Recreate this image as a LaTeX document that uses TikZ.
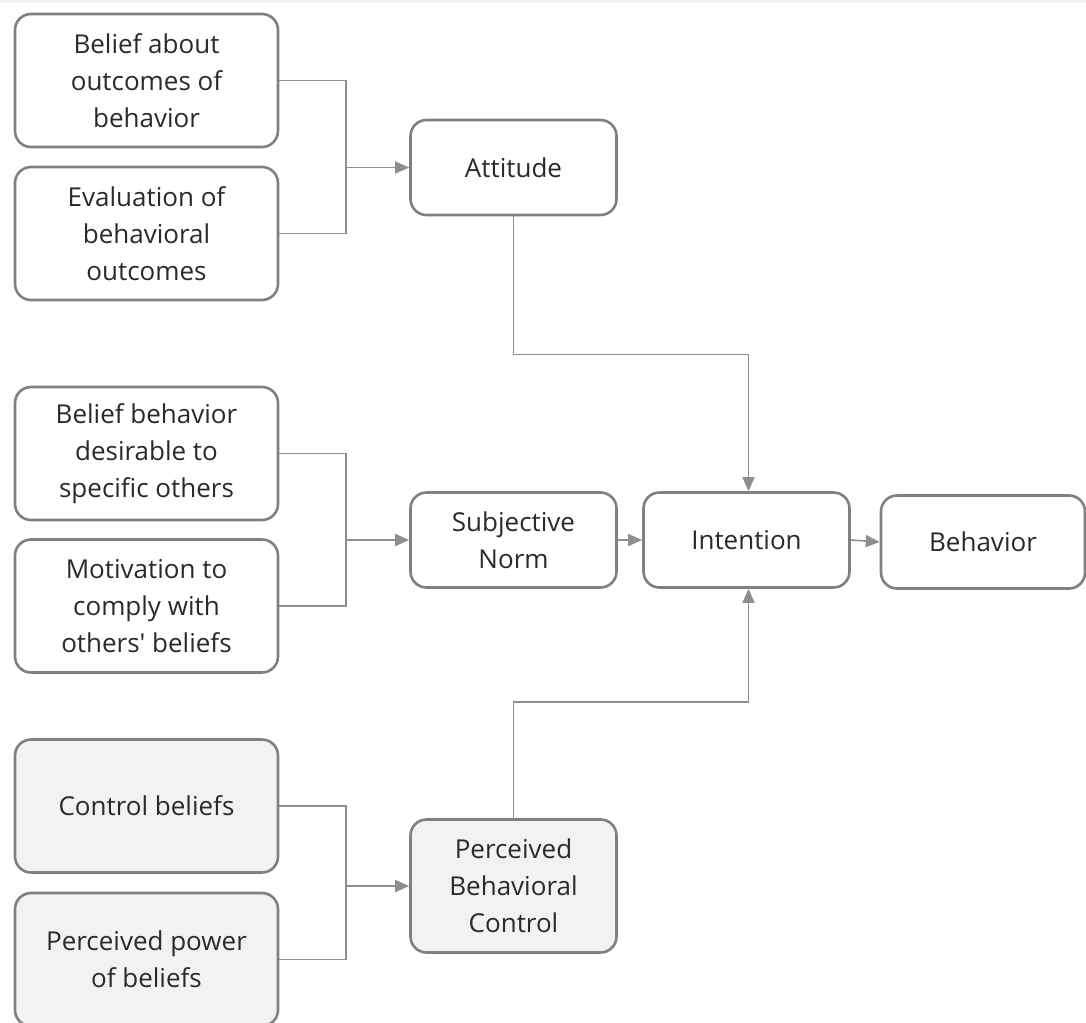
\documentclass[tikz,border=0pt]{standalone}
\usepackage{fontspec}
\setmainfont{Open Sans}
\usetikzlibrary{arrows.meta}
\definecolor{edge}{HTML}{808080}
\definecolor{wire}{HTML}{8E8E8E}
\definecolor{ink}{HTML}{2A2A2A}
\definecolor{shade}{HTML}{F2F2F2}
\tikzset{
  box/.style={draw=edge, line width=2.6pt, rounded corners=16pt, fill=white,
    align=center, text=ink, inner sep=0pt,
    font=\fontsize{26}{37}\selectfont},
  leftbox/.style={box, minimum width=263pt, minimum height=133pt},
  midbox/.style={box, minimum width=206pt, minimum height=95pt},
  greybox/.style={fill=shade},
  wireline/.style={draw=wire, line width=1.6pt},
  flow/.style={wireline, -{Triangle[length=14pt,width=12pt]}},
}
\begin{document}
\begin{tikzpicture}[x=1pt,y=-1pt]
\useasboundingbox (0,0) rectangle (1086,1022);
\clip (0,0) rectangle (1086,1022);
\fill[gray!10] (0,0) rectangle (1086,3);

% input beliefs
\node[leftbox] (l1) at (146.5,80.5) {Belief about\\outcomes of\\behavior};
\node[leftbox] (l2) at (146.5,233.5) {Evaluation of\\behavioral\\outcomes};
\node[leftbox] (l3) at (146.5,453.5) {Belief behavior\\desirable to\\specific others};
\node[leftbox] (l4) at (146.5,606) {Motivation to\\comply with\\others\textquotesingle{} beliefs};
\node[leftbox,greybox] (l5) at (146.5,806) {Control beliefs};
\node[leftbox,greybox] (l6) at (146.5,959.5) {Perceived power\\of beliefs};

% constructs
\node[midbox] (att) at (513.5,167.5) {Attitude};
\node[midbox] (sn) at (513.5,540) {Subjective\\Norm};
\node[midbox] (int) at (746.5,540) {Intention};
\node[box, minimum width=204pt, minimum height=93pt] (beh) at (983,542) {Behavior};
\node[midbox,greybox, minimum height=133pt] (pbc) at (513.5,886) {Perceived\\Behavioral\\Control};

% junction points, level with the target boxes
\path (att.west) ++(-63.5,0) coordinate (j1);
\path (sn.west) ++(-63.5,0) coordinate (j2);
\path (pbc.west) ++(-63.5,0) coordinate (j3);

\draw[wireline] (l1.east) -| (j1) |- (l2.east);
\draw[flow] (j1) -- (att.west);
\draw[wireline] (l3.east) -| (j2) |- (l4.east);
\draw[flow] (j2) -- (sn.west);
\draw[wireline] (l5.east) -| (j3) |- (l6.east);
\draw[flow] (j3) -- (pbc.west);

\draw[flow] (att.south) -- ++(0,138) -| ([xshift=2pt]int.north);
\draw[flow] (pbc.north) -- ++(0,-116) -| ([xshift=2pt]int.south);
\draw[flow] (sn.east) -- (int.west);
\draw[flow] (int.east) -- (beh.west);
\end{tikzpicture}
\end{document}
